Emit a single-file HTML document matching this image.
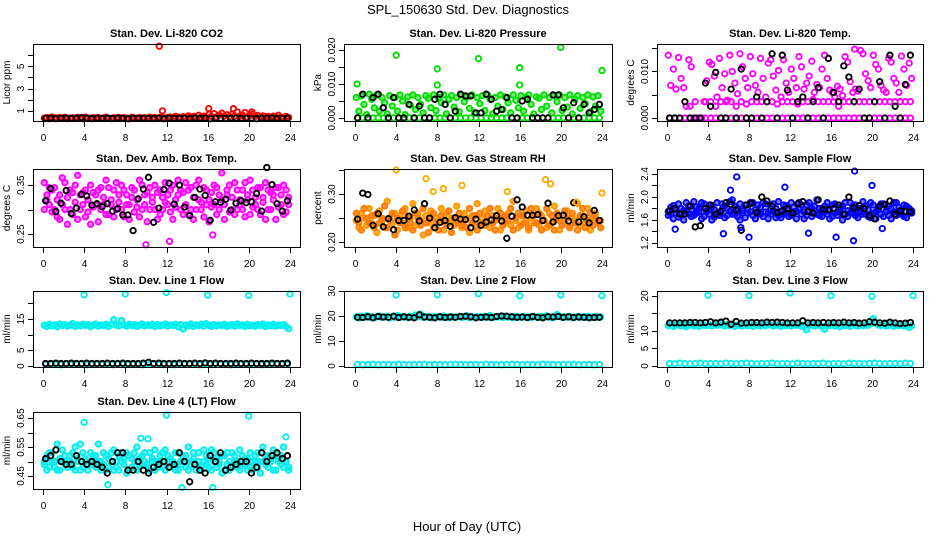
<!DOCTYPE html>
<html><head><meta charset="utf-8"><style>
html,body{margin:0;padding:0;background:#fff;}
svg{display:block;font-family:"Liberation Sans",sans-serif;}
</style></head><body>
<svg id="chart" width="936" height="540" viewBox="0 0 936 540">
<text x="468" y="14" text-anchor="middle" font-size="13">SPL_150630  Std. Dev. Diagnostics</text>
<text x="467" y="531" text-anchor="middle" font-size="13">Hour of Day (UTC)</text>
</svg>
<script>
const xTicks=[0,4,8,12,16,20,24];
const co2Main=[0.35,0.4,0.3,0.45,0.38,0.32,0.4,0.36,0.42,0.3,0.35,0.38,0.33,0.41,0.37,0.3,0.44,0.36,0.32,0.39,0.35,0.4,0.31,0.37,0.43,0.35,0.3,0.38,0.36,0.41,0.33,0.39,0.35,0.3,0.42,0.37,0.34,0.4,0.32,0.38,0.36,0.44,0.3,0.39,0.35,0.41,0.33,0.37,0.4,0.45,0.38,0.5,0.42,0.36,0.48,0.4,0.55,0.45,0.5,0.38,0.6,0.44,0.52,0.4,0.7,0.5,0.75,0.45,0.6,0.8,0.52,0.65,0.48,0.7,0.55,0.9,0.5,0.62,0.85,0.45,0.58,0.7,0.5,0.6,0.42,0.55,0.48,0.5,0.4,0.52,0.45,0.6,0.42,0.38,0.5,0.4];
const co2Black=[0.32,0.35,0.3,0.33,0.36,0.31,0.34,0.4,0.33,0.3,0.35,0.32,0.34,0.31,0.36,0.33,0.3,0.34,0.32,0.35,0.31,0.33,0.36,0.3,0.34,0.32,0.35,0.33,0.31,0.36,0.32,0.34,0.3,0.35,0.33,0.31,0.34,0.36,0.32,0.33,0.35,0.3,0.34,0.32,0.36,0.33,0.31,0.34];
const co2OutX=[11.3,11.6,16.1,18.5,20.3];
const co2OutY=[6.8,1.0,1.2,1.2,0.9];
const pressZero=[0,0,0,0,0,0,0,0,0,0,0,0,0,0,0,0,0,0,0,0,0,0,0,0,0,0,0,0,0,0,0,0,0,0,0,0,0,0,0,0,0,0,0,0,0,0,0,0];
const pressBand=[0.006,0.002,0.0065,0.004,0.001,0.007,0.0055,0.003,0.0068,0.002,0.006,0.0045,0.0012,0.0066,0.0035,0.006,0.002,0.0068,0.005,0.001,0.0062,0.0038,0.0068,0.0025,0.006,0.004,0.0015,0.0066,0.0058,0.003,0.0068,0.0022,0.006,0.0045,0.0068,0.0012,0.0055,0.0066,0.0032,0.006,0.0018,0.0068,0.0048,0.0062,0.0028,0.0068,0.0015,0.006,0.0042,0.0066,0.0022,0.0068,0.0055,0.0012,0.006,0.0035,0.0068,0.0025,0.0062,0.0045,0.0015,0.0068,0.0052,0.003,0.0066,0.002,0.006,0.0068,0.004,0.0012,0.0062,0.0058,0.0025,0.0068,0.0035,0.006,0.0015,0.0066,0.0048,0.0068,0.0022,0.006,0.0032,0.0068,0.0012,0.0055,0.0066,0.0028,0.006,0.0042,0.0068,0.0018,0.0062,0.0035,0.0066,0.002];
const pressBlack=[0,0.007,0,0.006,0.007,0.003,0,0.006,0,0,0.004,0,0.0035,0,0,0.0055,0.007,0.004,0,0.002,0.007,0.0065,0.0065,0.0015,0.0015,0.007,0.0055,0.002,0.0025,0.006,0,0,0.005,0.0055,0,0,0,0,0.0068,0.0068,0.003,0,0.0045,0,0.004,0.0015,0.0025,0.004];
const pressOutX=[0.2,4,8,8,12,16,16,20,24];
const pressOutY=[0.010,0.0185,0.0145,0.0097,0.0175,0.0148,0.0097,0.0208,0.0140];
const tempZero=[0,0,0,0,0,0,0,0,0,0,0,0,0,0,0,0,0,0,0,0,0,0,0,0,0,0,0,0,0,0,0,0,0,0,0,0,0,0,0,0,0,0,0,0,0,0,0,0];
const tempLow=[0,0,0,0,0.0025,0.0035,0,0.0035,0.0035,0.0025,0.0035,0.0035,0.0035,0.0025,0.0035,0.003,0.0035,0.0035,0.0035,0.0035,0.0035,0.003,0.0035,0.0035,0.0035,0.003,0.0035,0.0035,0.004,0.0035,0.0035,0.0035,0.0035,0.0025,0.0035,0.0035,0.0035,0.0035,0.0035,0.0035,0.0035,0.0035,0.0035,0.0035,0.0035,0.0035,0.0035,0.0035];
const tempBand=[0.0135,0.007,0.0105,0.0062,0.013,0.0085,0.0065,0.0025,0.0125,0.011,0.0,0.0,0.0,0.0,0.0035,0.008,0.012,0.0115,0.009,0.0045,0.0128,0.0065,0.0095,0.0038,0.0135,0.01,0.0075,0.0052,0.0138,0.011,0.0085,0.0065,0.0132,0.0095,0.007,0.0055,0.0128,0.0085,0.0045,0.0118,0.0125,0.009,0.006,0.0102,0.0045,0.0125,0.0075,0.0055,0.0105,0.0085,0.0065,0.0132,0.011,0.0062,0.0075,0.009,0.0122,0.0055,0.0072,0.0065,0.0105,0.0135,0.0085,0.006,0.0055,0.0045,0.0068,0.0062,0.0048,0.0132,0.012,0.0078,0.0055,0.0062,0.0058,0.0145,0.0138,0.0095,0.008,0.0065,0.0135,0.0115,0.0105,0.007,0.006,0.0055,0.0128,0.012,0.0085,0.0075,0.0055,0.0133,0.0105,0.007,0.0118,0.0085];
const tempBlack=[0,0,0,0.0035,0,0,0,0.0075,0.0025,0.0098,0,0,0.0062,0,0.0105,0,0,0.0045,0,0.0035,0.0138,0,0.0135,0.006,0,0.0035,0.0045,0,0.0035,0.0065,0,0.0128,0.0055,0.0035,0.0112,0.0088,0.0035,0.0062,0,0,0.0035,0.0078,0,0.0135,0.0025,0,0.0072,0.0135];
const tempOutX=[18.3];
const tempOutY=[0.0148];
const ambA=[0.355,0.33,0.31,0.295,0.345,0.32,0.28,0.365,0.3,0.325,0.34,0.29,0.315,0.37,0.3,0.335,0.285,0.32,0.35,0.305,0.33,0.275,0.345,0.31,0.36,0.29,0.32,0.34,0.3,0.315,0.35,0.285,0.33,0.31,0.345,0.295,0.32,0.36,0.3,0.33,0.275,0.345,0.315,0.3,0.335,0.29,0.325,0.355,0.31,0.34,0.28,0.32,0.36,0.3,0.335,0.31,0.29,0.345,0.325,0.3,0.36,0.315,0.285,0.34,0.32,0.305,0.35,0.29,0.33,0.375,0.31,0.34,0.295,0.325,0.355,0.3,0.32,0.34,0.285,0.33,0.36,0.305,0.325,0.345,0.29,0.315,0.355,0.3,0.335,0.32,0.28,0.345,0.31,0.35,0.295,0.325];
const ambB=[0.3,0.32,0.345,0.34,0.3,0.285,0.33,0.31,0.355,0.27,0.3,0.335,0.35,0.28,0.33,0.31,0.34,0.295,0.27,0.335,0.31,0.34,0.3,0.325,0.29,0.345,0.31,0.285,0.355,0.33,0.3,0.34,0.31,0.28,0.325,0.34,0.305,0.285,0.35,0.31,0.335,0.3,0.325,0.35,0.28,0.34,0.3,0.315,0.33,0.295,0.35,0.305,0.33,0.34,0.29,0.355,0.34,0.3,0.28,0.35,0.32,0.3,0.345,0.31,0.275,0.335,0.31,0.345,0.3,0.32,0.28,0.33,0.35,0.3,0.29,0.34,0.31,0.3,0.355,0.32,0.29,0.34,0.31,0.3,0.345,0.325,0.28,0.34,0.3,0.33,0.345,0.305,0.33,0.29,0.34,0.31];
const ambBlack=[0.318,0.343,0.296,0.313,0.339,0.292,0.303,0.331,0.328,0.309,0.312,0.306,0.312,0.297,0.302,0.289,0.289,0.257,0.322,0.342,0.366,0.274,0.303,0.341,0.354,0.311,0.35,0.305,0.288,0.325,0.342,0.329,0.278,0.316,0.315,0.321,0.299,0.313,0.318,0.314,0.316,0.333,0.297,0.386,0.351,0.312,0.297,0.318];
const ambOutX=[10,16.5,12.3];
const ambOutY=[0.228,0.248,0.235];
const rhA=[0.245,0.23,0.26,0.25,0.235,0.27,0.24,0.255,0.22,0.265,0.245,0.23,0.285,0.25,0.24,0.26,0.225,0.255,0.24,0.27,0.23,0.25,0.28,0.235,0.26,0.245,0.215,0.255,0.24,0.265,0.23,0.25,0.245,0.27,0.225,0.26,0.24,0.25,0.235,0.275,0.245,0.23,0.26,0.25,0.22,0.255,0.24,0.28,0.235,0.25,0.265,0.24,0.23,0.255,0.245,0.27,0.225,0.25,0.24,0.26,0.235,0.285,0.245,0.23,0.255,0.24,0.265,0.225,0.25,0.24,0.27,0.235,0.255,0.245,0.23,0.26,0.24,0.275,0.25,0.225,0.255,0.24,0.265,0.23,0.25,0.245,0.28,0.235,0.255,0.24,0.27,0.225,0.25,0.26,0.24,0.245];
const rhB=[0.26,0.24,0.225,0.27,0.25,0.24,0.255,0.23,0.26,0.24,0.25,0.275,0.23,0.245,0.26,0.215,0.25,0.24,0.265,0.23,0.255,0.24,0.225,0.26,0.25,0.235,0.27,0.24,0.22,0.25,0.26,0.24,0.225,0.255,0.245,0.235,0.265,0.22,0.25,0.24,0.26,0.235,0.245,0.23,0.27,0.24,0.255,0.225,0.26,0.24,0.235,0.255,0.27,0.24,0.225,0.25,0.26,0.235,0.255,0.245,0.27,0.225,0.25,0.26,0.235,0.255,0.24,0.23,0.27,0.255,0.24,0.26,0.225,0.245,0.27,0.235,0.255,0.225,0.26,0.245,0.235,0.265,0.25,0.23,0.26,0.24,0.225,0.255,0.27,0.23,0.245,0.26,0.235,0.25,0.24,0.23];
const rhBlack=[0.248,0.302,0.299,0.235,0.259,0.232,0.249,0.226,0.245,0.245,0.254,0.267,0.244,0.28,0.25,0.23,0.241,0.245,0.233,0.251,0.248,0.247,0.23,0.248,0.235,0.242,0.246,0.255,0.244,0.208,0.254,0.288,0.273,0.256,0.256,0.257,0.245,0.281,0.242,0.255,0.256,0.244,0.282,0.242,0.253,0.24,0.266,0.245];
const rhOutX=[4,6.9,7.6,10.4,8.6,14.8,19,18.5,21.5,24];
const rhOutY=[0.35,0.332,0.305,0.318,0.311,0.305,0.321,0.33,0.283,0.302];
const flowA=[1.75,1.7,1.85,1.72,1.65,1.8,1.76,1.9,1.7,1.78,1.68,1.83,1.74,1.62,1.88,1.76,1.7,1.82,1.65,1.9,1.72,1.78,1.85,1.68,1.75,1.95,1.7,1.8,1.6,1.76,1.86,1.72,1.9,1.68,1.78,1.74,1.82,1.66,1.88,1.72,1.8,1.76,1.64,1.92,1.74,1.7,1.85,1.78,1.68,1.82,1.75,1.9,1.7,1.62,1.86,1.76,1.8,1.72,1.95,1.68,1.78,1.84,1.7,1.76,1.66,1.88,1.74,1.82,1.6,1.9,1.76,1.72,1.84,1.68,1.8,1.75,1.92,1.7,1.78,1.64,1.86,1.74,1.82,1.7,1.88,1.76,1.68,1.8,1.74,1.9,1.72,1.78,1.66,1.84,1.75,1.72];
const flowB=[1.68,1.82,1.62,1.78,1.88,1.7,1.6,1.76,1.84,1.66,1.92,1.72,1.8,1.9,1.66,1.74,1.86,1.6,1.78,1.72,1.68,1.88,1.64,1.8,1.92,1.7,1.84,1.66,1.88,1.72,1.64,1.8,1.74,1.9,1.62,1.86,1.7,1.9,1.74,1.62,1.7,1.88,1.8,1.68,1.64,1.86,1.72,1.66,1.9,1.74,1.62,1.8,1.86,1.74,1.68,1.9,1.66,1.84,1.7,1.8,1.66,1.74,1.9,1.62,1.86,1.72,1.68,1.78,1.84,1.7,1.66,1.9,1.72,1.86,1.64,1.8,1.7,1.84,1.66,1.9,1.72,1.62,1.78,1.88,1.66,1.74,1.84,1.62,1.9,1.68,1.82,1.7,1.86,1.64,1.8,1.76];
const flowBlack=[1.76,1.8,1.7,1.71,1.84,1.48,1.5,1.8,1.86,1.7,1.75,1.9,1.87,1.77,1.42,1.86,1.89,1.73,2.0,1.93,1.84,1.73,1.76,1.8,1.72,1.88,1.92,1.75,1.72,1.95,1.79,1.78,1.8,1.86,1.7,2.0,1.81,1.85,1.8,1.68,1.62,1.84,1.87,1.93,1.7,1.76,1.75,1.74];
const flowOutX=[6.8,8,18.3,18.2,11.5,13.8,16.5,20,0.8,5.5,21,7.2,6.2];
const flowOutY=[2.35,1.3,2.45,1.24,2.17,1.37,1.3,2.2,1.44,1.36,1.45,1.47,2.12];
const l1High=[13,12.6,13.3,12.8,13.1,12.5,13.4,12.9,13.2,12.7,13,13.5,12.6,13.1,12.8,13.3,12.9,13.2,12.5,13,13.4,12.7,13.1,12.9,13.3,12.6,13.2,14.8,13,12.8,14.5,13.1,12.7,13.3,12.9,13.2,12.6,13,13.4,12.8,13.1,12.9,13.3,12.6,13.2,12.8,13,13.4,12.7,13.1,12.9,13.3,12.5,13.2,11.8,13,12.8,13.4,12.6,13.1,12.9,13.3,12.7,13.5,13,12.6,13.2,12.8,13.1,12.9,13.3,12.6,13,13.2,12.7,13.4,12.9,13.1,12.6,13.3,12.8,13,12.7,13.2,12.9,13.4,12.6,13.1,12.8,13.3,12.7,13,12.9,13.2,12.6,11.9];
const l1Low=[0.5,0.6,0.5,0.4,0.6,0.5,0.5,0.6,0.4,0.5,0.6,0.5,0.5,0.4,0.6,0.5,0.5,0.6,0.5,0.4,0.5,0.6,0.5,0.5,0.6,0.4,0.5,0.5,0.6,0.5,0.4,0.6,0.5,0.5,0.6,0.5,0.4,0.5,0.6,0.5,0.5,0.6,0.4,0.5,0.5,0.6,0.5,0.5];
const l1Black=[0.8,0.8,0.9,0.8,0.8,0.9,0.8,0.8,0.9,0.8,0.8,0.8,0.9,0.8,0.8,0.9,0.8,0.8,0.8,0.9,1.2,0.8,0.9,0.8,0.8,0.8,0.9,0.8,0.8,0.9,0.8,1.0,0.8,0.9,0.8,0.8,0.8,0.9,0.8,0.8,0.9,0.8,0.8,0.8,0.9,0.8,0.8,0.9];
const l1OutX=[4,8,12,16,20,24];
const l1OutY=[22.7,22.9,23.4,22.6,22.5,22.9];
const l2High=[19.6,19.2,19.9,19.4,20.1,19.5,19.8,19.3,19.7,20,19.4,19.6,19.9,19.2,19.7,19.5,20.2,19.4,19.8,19.6,19.3,19.9,19.5,20.4,19.7,20.8,19.4,19.6,19.9,19.3,19.7,19.5,19.8,19.4,20,19.6,19.3,19.8,19.5,19.7,19.9,19.4,19.6,20.1,19.3,19.7,19.5,19.8,19.6,19.4,19.9,19.5,20.2,19.3,19.7,19.6,19.8,19.4,20,19.5,19.7,19.3,19.9,19.6,19.4,19.8,19.5,19.7,19.3,19.9,19.6,19.4,19.8,19.5,20.1,19.7,19.3,19.6,20.6,19.8,19.4,19.7,19.5,19.9,19.3,19.6,19.8,19.4,19.7,19.5,19.9,19.3,19.6,19.8,19.4,19.6];
const l2Low=[0.6,0.5,0.6,0.7,0.5,0.6,0.6,0.5,0.7,0.6,0.5,0.6,0.6,0.7,0.5,0.6,0.6,0.5,0.6,0.7,0.6,0.5,0.6,0.6,0.5,0.7,0.6,0.6,0.5,0.6,0.7,0.6,0.5,0.6,0.6,0.5,0.7,0.6,0.6,0.5,0.6,0.6,0.7,0.5,0.6,0.6,0.5,0.6];
const l2Black=[19.5,19.4,19.7,19.3,19.8,19.6,19.5,19.9,19.4,19.7,19.5,19.3,20.5,19.6,19.5,19.3,19.7,19.4,19.6,19.5,19.8,19.9,19.7,19.3,19.5,19.6,19.4,19.8,20,19.9,19.7,19.5,19.6,19.4,19.8,19.5,19.3,19.7,19.6,19.8,19.5,19.7,19.4,19.6,19.5,19.3,19.4,19.5];
const l2OutX=[4,8,12,16,20,24];
const l2OutY=[28.4,28.5,28.9,28.1,28.4,28.1];
const l3High=[11.5,11.9,11.3,11.7,12,11.4,11.8,11.2,11.6,11.9,11.4,11.7,11.3,12.2,11.6,11.5,11.8,11.4,11.9,11.6,12.3,11.7,11.4,11.8,11.5,11.9,11.3,11.7,11.6,11.4,11.8,11.5,11.9,11.3,11.7,11.6,11.4,11.8,11.5,11.9,11.7,11.4,11.6,11.8,11.3,11.7,11.5,11.9,11.4,11.7,11.6,11.8,11.3,11.5,10.3,11.7,11.9,11.4,11.6,11.8,11.3,10.5,11.7,11.5,11.9,11.4,11.6,11.2,11.8,11.5,11.7,11.3,11.9,11.6,11.4,11.8,11.5,11.7,11.6,12,13.5,12.3,11.7,11.5,11.8,11.4,11.6,11.9,11.3,11.7,11.5,11.8,11.4,11.6,11,11.5];
const l3Low=[0.7,0.6,0.8,0.7,0.6,0.7,0.8,0.6,0.7,0.7,0.6,0.8,0.7,0.6,0.7,0.8,0.7,0.6,0.7,0.7,0.8,0.6,0.7,0.7,0.6,0.8,0.7,0.6,0.7,0.7,0.8,0.6,0.7,0.7,0.6,0.8,0.7,0.7,0.6,0.7,0.8,0.7,0.6,0.7,0.7,0.6,0.8,0.7];
const l3Black=[12.3,12.3,12.3,12.3,12.4,12.4,12.3,12.4,12.6,12.3,12.5,12.8,11.9,12.7,12.2,12.3,12.4,12.4,12.3,12.5,12.4,12.5,12.4,12.3,12.3,12.3,12.9,12.3,12.4,12.3,12.4,12.3,12.4,12.3,12.5,12.3,12.4,12.2,12.3,12.6,12.5,12.3,12.2,12.5,12.3,12.1,12.2,12.4];
const l3OutX=[4,8,12,16,20,24];
const l3OutY=[20.2,20.1,20.8,20.1,19.9,20.1];
const l4A=[0.5,0.52,0.48,0.53,0.5,0.47,0.51,0.54,0.49,0.5,0.52,0.48,0.55,0.5,0.47,0.53,0.51,0.49,0.5,0.52,0.48,0.56,0.5,0.53,0.47,0.51,0.5,0.54,0.48,0.52,0.5,0.49,0.53,0.47,0.51,0.5,0.55,0.48,0.52,0.5,0.49,0.53,0.51,0.47,0.5,0.52,0.48,0.54,0.5,0.51,0.49,0.53,0.47,0.5,0.52,0.48,0.55,0.5,0.51,0.49,0.53,0.47,0.5,0.52,0.48,0.54,0.5,0.51,0.49,0.52,0.47,0.53,0.5,0.48,0.52,0.5,0.54,0.49,0.51,0.47,0.53,0.5,0.52,0.48,0.5,0.55,0.49,0.52,0.5,0.47,0.53,0.51,0.49,0.55,0.5,0.48];
const l4B=[0.49,0.47,0.53,0.5,0.48,0.56,0.47,0.5,0.52,0.48,0.5,0.53,0.47,0.51,0.56,0.48,0.5,0.47,0.53,0.49,0.52,0.5,0.47,0.49,0.52,0.48,0.53,0.47,0.5,0.47,0.53,0.51,0.46,0.52,0.48,0.53,0.47,0.51,0.49,0.53,0.48,0.47,0.5,0.54,0.48,0.5,0.53,0.47,0.52,0.48,0.5,0.47,0.53,0.49,0.5,0.52,0.47,0.49,0.53,0.47,0.5,0.48,0.54,0.49,0.51,0.47,0.53,0.48,0.5,0.46,0.52,0.49,0.47,0.53,0.5,0.48,0.47,0.52,0.49,0.51,0.48,0.47,0.5,0.53,0.46,0.5,0.52,0.48,0.51,0.54,0.47,0.5,0.52,0.48,0.5,0.47];
const l4Black=[0.51,0.52,0.54,0.5,0.49,0.49,0.52,0.5,0.49,0.5,0.49,0.48,0.46,0.5,0.53,0.53,0.47,0.47,0.5,0.47,0.46,0.48,0.49,0.5,0.48,0.49,0.53,0.5,0.43,0.49,0.47,0.46,0.52,0.5,0.53,0.47,0.48,0.49,0.5,0.5,0.46,0.48,0.53,0.5,0.52,0.53,0.51,0.52];
const l4OutX=[4,12,20,6.3,16.5,13.5,23.6,9.5,10.2];
const l4OutY=[0.635,0.66,0.657,0.42,0.41,0.41,0.585,0.58,0.578];

const cols=[{l:33,r:300,x0:43,x24:290},{l:344,r:612,x0:355,x24:602},{l:657,r:923,x0:667,x24:913}];
const rows=[{t:44,b:121},{t:169,b:247},{t:291,b:367},{t:412,b:489}];
const CY='#00eeee',MG='#ff00ff',BL='#000000';
const panels=[
 {c:0,r:0,title:'Stan. Dev. Li-820 CO2',yl:'Licor ppm',lo:0.09,hi:7.0,ticks:[1,2,3,4,5,6],labs:[1,3,5],fmt:0,
  series:[[co2Main,'#ff0000',0],[co2Black,BL,0]],out:[co2OutX,co2OutY,'#ff0000']},
 {c:1,r:0,title:'Stan. Dev. Li-820 Pressure',yl:'kPa',lo:-0.0009,hi:0.0218,ticks:[0,0.005,0.01,0.015,0.02],labs:[0,0.01,0.02],fmt:3,
  series:[[pressZero,'#00dd00',0],[pressBand,'#00dd00',0.5],[pressBlack,BL,0]],out:[pressOutX,pressOutY,'#00dd00']},
 {c:2,r:0,title:'Stan. Dev. Li-820 Temp.',yl:'degrees C',lo:-0.00065,hi:0.0159,ticks:[0,0.005,0.01,0.015],labs:[0,0.01],fmt:3,
  series:[[tempZero,MG,0],[tempLow,MG,0],[tempBand,MG,0],[tempBlack,BL,0]],out:[tempOutX,tempOutY,MG]},
 {c:0,r:1,title:'Stan. Dev. Amb. Box Temp.',yl:'degrees C',lo:0.2235,hi:0.383,ticks:[0.25,0.3,0.35],labs:[0.25,0.35],fmt:2,
  series:[[ambA,MG,0.5],[ambB,MG,0.5],[ambBlack,BL,0]],out:[ambOutX,ambOutY,MG]},
 {c:1,r:1,title:'Stan. Dev. Gas Stream RH',yl:'percent',lo:0.19,hi:0.352,ticks:[0.2,0.25,0.3,0.35],labs:[0.2,0.3],fmt:2,
  series:[[rhA,'#ff9900',0.8],[rhB,'#ff7a00',0.8],[rhBlack,BL,0]],out:[rhOutX,rhOutY,'#ffaa00']},
 {c:2,r:1,title:'Stan. Dev. Sample Flow',yl:'ml/min',lo:1.13,hi:2.487,ticks:[1.2,1.4,1.6,1.8,2.0,2.2,2.4],labs:[1.2,1.6,2.0,2.4],fmt:1,
  series:[[flowA,'#0000ff',0.5],[flowB,'#0000ff',0.5],[flowBlack,BL,0]],out:[flowOutX,flowOutY,'#0000ff']},
 {c:0,r:2,title:'Stan. Dev. Line 1 Flow',yl:'ml/min',lo:-0.3,hi:23.9,ticks:[0,5,10,15,20],labs:[0,5,15],fmt:0,
  series:[[l1High,CY,0.5],[l1Low,CY,0],[l1Black,BL,0]],out:[l1OutX,l1OutY,CY]},
 {c:1,r:2,title:'Stan. Dev. Line 2 Flow',yl:'ml/min',lo:-0.4,hi:30,ticks:[0,10,20,30],labs:[0,10,20,30],fmt:0,
  series:[[l2High,CY,0.5],[l2Low,CY,0],[l2Black,BL,0]],out:[l2OutX,l2OutY,CY]},
 {c:2,r:2,title:'Stan. Dev. Line 3 Flow',yl:'ml/min',lo:-0.3,hi:21.4,ticks:[0,5,10,15,20],labs:[0,5,10,20],fmt:0,
  series:[[l3High,CY,0.5],[l3Low,CY,0],[l3Black,BL,0]],out:[l3OutX,l3OutY,CY]},
 {c:0,r:3,title:'Stan. Dev. Line 4 (LT) Flow',yl:'ml/min',lo:0.405,hi:0.671,ticks:[0.45,0.5,0.55,0.6,0.65],labs:[0.45,0.55,0.65],fmt:2,
  series:[[l4A,CY,0.5],[l4B,CY,0.5],[l4Black,BL,0]],out:[l4OutX,l4OutY,CY]}
];
const NS='http://www.w3.org/2000/svg';
const svg=document.getElementById('chart');
function mk(tag,attrs,parent){const e=document.createElementNS(NS,tag);for(const k in attrs)e.setAttribute(k,attrs[k]);parent.appendChild(e);return e;}
panels.forEach((p,pi)=>{
  const C=cols[p.c],R=rows[p.r];
  const xs=h=>C.x0+(C.x24-C.x0)*h/24;
  const ys=v=>R.b-(v-p.lo)/(p.hi-p.lo)*(R.b-R.t);
  const g=mk('g',{},svg);
  
  
  const tt=mk('text',{x:(C.l+C.r)/2,y:R.t-7,'text-anchor':'middle','font-size':'11','font-weight':'bold'},g);
  tt.textContent=p.title;
  
  
  const pts=mk('g',{'stroke-width':'1.9'},g);
  
  
  p.series.forEach(([arr,col,fo])=>{
    const n=arr.length;
    arr.forEach((v,i)=>{
      const c=mk('circle',{cx:xs((i+0.5)*24/n).toFixed(1),cy:ys(v).toFixed(1),r:2.7,stroke:col,fill:fo?col:'none','fill-opacity':fo},pts);
      
      
    });
  });
  const [ox,oy,oc]=p.out;
  ox.forEach((h,i)=>{
    const c=mk('circle',{cx:xs(h).toFixed(1),cy:ys(oy[i]).toFixed(1),r:2.7,stroke:oc,fill:'none'},pts);
    
    
  });
  const box=mk('rect',{x:C.l+0.5,y:R.t+0.5,width:C.r-C.l,height:R.b-R.t,fill:'none',stroke:'#000','stroke-width':'1'},g);
  
  
  xTicks.forEach(h=>{
    const x=Math.round(xs(h))+0.5;
    mk('line',{x1:x,x2:x,y1:R.b+1,y2:R.b+6,stroke:'#000'},g);
    const t=mk('text',{x:x,y:R.b+20,'text-anchor':'middle','font-size':'10'},g);
    t.textContent=h;
    
    
  });
  p.ticks.forEach(v=>{
    const y=Math.round(ys(v))+0.5;
    mk('line',{x1:C.l-5,x2:C.l,y1:y,y2:y,stroke:'#000'},g);
  });
  p.labs.forEach(v=>{
    const y=ys(v);
    const t=mk('text',{x:C.l-9,y:y,'text-anchor':'middle','font-size':'10',transform:'rotate(-90 '+(C.l-9)+' '+y+')'},g);
    t.textContent=v.toFixed(p.fmt);
    
    
  });
  const ym=(R.t+R.b)/2;
  const yt=mk('text',{x:C.l-23,y:ym,'text-anchor':'middle','font-size':'10',transform:'rotate(-90 '+(C.l-23)+' '+ym+')'},g);
  yt.textContent=p.yl;
  
  
});
</script>
</body></html>
